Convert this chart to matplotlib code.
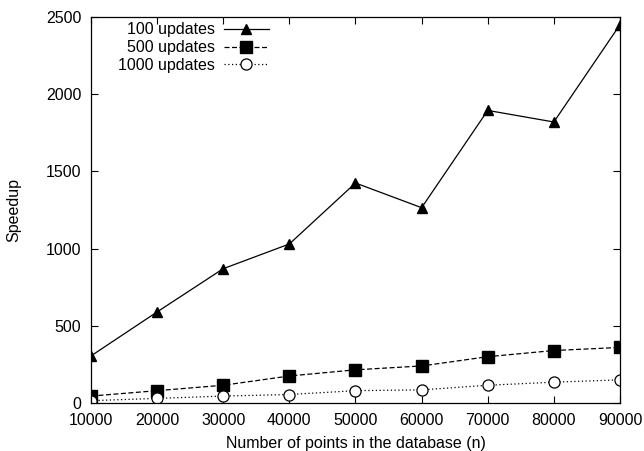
import matplotlib.pyplot as plt

plt.rcParams['font.family'] = ['Liberation Sans', 'DejaVu Sans']

n_points = [10000, 20000, 30000, 40000, 50000, 60000, 70000, 80000, 90000]
speedup_100 = [305, 590, 870, 1030, 1425, 1265, 1895, 1820, 2450]
speedup_500 = [45, 80, 115, 175, 215, 240, 300, 340, 360]
speedup_1000 = [15, 30, 45, 55, 80, 85, 115, 135, 150]

fig = plt.figure(figsize=(6.44, 4.51), dpi=100)
ax = fig.add_axes([0.1413, 0.1064, 0.8214, 0.8559])

ax.plot(n_points, speedup_100, color="black", lw=0.9, marker="^", ms=7.5,
        label="100 updates")
ax.plot(n_points, speedup_500, color="black", lw=0.9, ls=(0, (4, 2)), marker="s", ms=8.5,
        label="500 updates")
ax.plot(n_points, speedup_1000, color="black", lw=0.9, ls=(0, (1, 2)), marker="o", ms=8,
        mfc="white", mec="black", mew=0.9, label="1000 updates")

ax.set_xlim(10000, 90000)
ax.set_ylim(0, 2500)
ax.set_xticks(range(10000, 90001, 10000))
ax.set_yticks(range(0, 2501, 500))
ax.tick_params(direction="in", length=5, width=0.8, top=True, right=True, labelsize=11.5)
ax.tick_params(axis="y", pad=7)
ax.tick_params(axis="x", pad=7)
for s in ax.spines.values():
    s.set_linewidth(0.9)

ax.set_xlabel("Number of points in the database (n)", fontsize=11.5, labelpad=6)
ax.set_ylabel("Speedup", fontsize=11.5, labelpad=18)

ax.legend(loc="upper left", bbox_to_anchor=(0.03, 1.015), frameon=False, markerfirst=False,
          fontsize=11.5, handlelength=2.8, labelspacing=0.17, handletextpad=0.56,
          borderaxespad=0.3)

fig.savefig("out.png", dpi=100)
